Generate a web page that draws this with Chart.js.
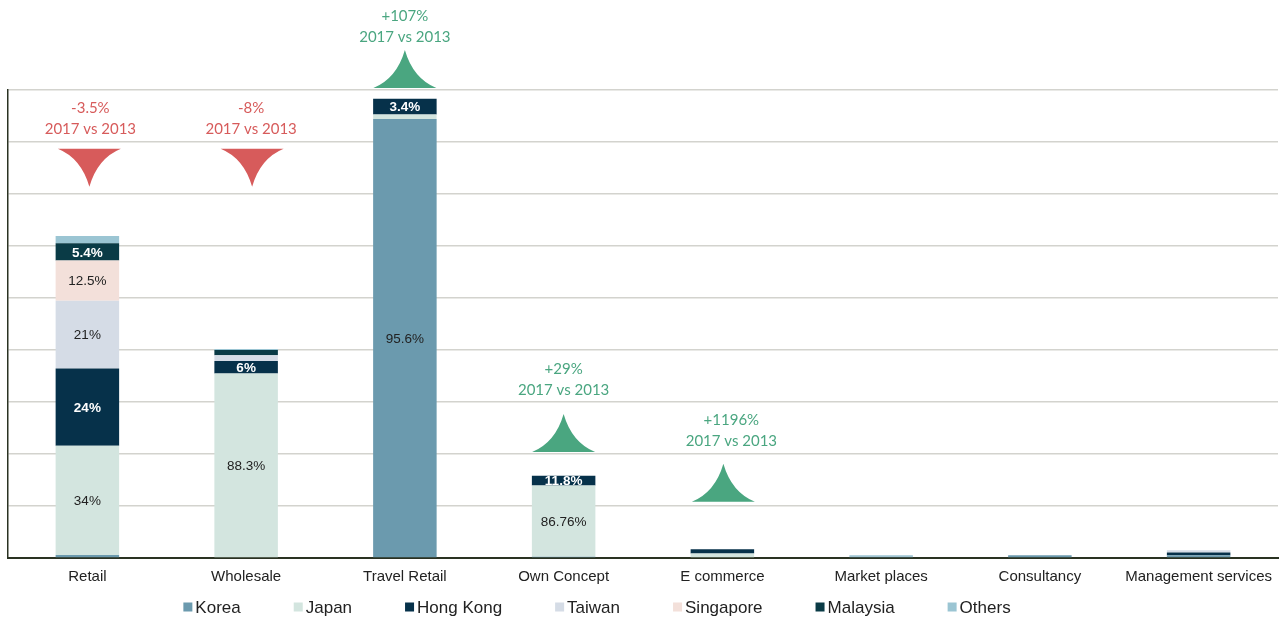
<!DOCTYPE html>
<html>
<head>
<meta charset="utf-8">
<script src="https://cdn.jsdelivr.net/npm/chart.js@4.4.0/dist/chart.umd.min.js"></script>
<style>
  html, body { margin: 0; padding: 0; background: #fff; }
  #wrap { width: 1285px; height: 624px; }
</style>
</head>
<body>
<div id="wrap"><canvas id="myChart"></canvas></div>
<script>
const channels = ['Retail', 'Wholesale', 'Travel Retail', 'Own Concept', 'E commerce',
                  'Market places', 'Consultancy', 'Management services'];

// size of each channel (same unit as the y axis)
const channelTotals = [61.9, 40.2, 88.3, 15.8, 1.7, 0.55, 0.55, 1.5];

// share of each market inside a channel, in %
const korea     = [0.9, 0, 95.6, 1.44, 0, 40, 100, 35];
const japan     = [34, 88.3, 1.0, 86.76, 50, 0, 0, 0];
const hongKong  = [24, 6, 3.4, 11.8, 50, 0, 0, 35];
const taiwan    = [21, 2.7, 0, 0, 0, 0, 0, 30];
const singapore = [12.5, 0, 0, 0, 0, 0, 0, 0];
const malaysia  = [5.4, 2.5, 0, 0, 0, 0, 0, 0];
const others    = [2.2, 0.5, 0, 0, 0, 60, 0, 0];

// growth 2017 vs 2013 per channel
const growth = ['-3.5%', '-8%', '+107%', '+29%', '+1196%', null, null, null];
const growthPeriod = '2017 vs 2013';

// where the growth spikes sit (y axis units), x nudges and caption spacing
const spikeLevel = [78.7, 78.7, 90.4, 20.4, 10.8];
const spikeShift = [2, 6, 0, 0, 1];
const noteShift  = [3, 5, 0, 0, 9];
const noteGap    = [20, 20, 13, 24, 23];

const markets = [
    {name: 'Korea',     share: korea,     color: '#6b9aae', ink: '#222'},
    {name: 'Japan',     share: japan,     color: '#d3e5df', ink: '#222'},
    {name: 'Hong Kong', share: hongKong,  color: '#06314a', ink: '#fff'},
    {name: 'Taiwan',    share: taiwan,    color: '#d5dce6', ink: '#222'},
    {name: 'Singapore', share: singapore, color: '#f3e0da', ink: '#222'},
    {name: 'Malaysia',  share: malaysia,  color: '#0a3b46', ink: '#fff'},
    {name: 'Others',    share: others,    color: '#9bc5d3', ink: '#222'},
];

const datasets = markets.map(m => ({
    label: m.name,
    data: m.share.map((s, i) => s * channelTotals[i] / 100),
    share: m.share,
    ink: m.ink,
    backgroundColor: m.color,
    borderWidth: 0,
    barPercentage: 0.4,
    categoryPercentage: 1
}));

// percentage written inside the larger segments
const segmentLabels = {
    id: 'segmentLabels',
    afterDatasetsDraw(chart) {
        const ctx = chart.ctx;
        ctx.save();
        ctx.textAlign = 'center';
        ctx.textBaseline = 'middle';
        chart.data.datasets.forEach((ds, di) => {
            const meta = chart.getDatasetMeta(di);
            meta.data.forEach((bar, i) => {
                const s = ds.share[i];
                if (s < 3 || channelTotals[i] < 10) return;
                ctx.fillStyle = ds.ink;
                ctx.font = (ds.ink === '#fff' ? 'bold ' : '') + '13.5px "Liberation Sans", Arial';
                ctx.fillText(s + '%', bar.x, (bar.y + bar.base) / 2 + 1);
            });
        });
        ctx.restore();
    }
};

function spike(ctx, cx, yb, w, h, dir){
    const tip = yb + dir * h;
    ctx.beginPath();
    ctx.moveTo(cx - w / 2, yb);
    ctx.quadraticCurveTo(cx - w * 0.13, yb + dir * h * 0.25, cx, tip);
    ctx.quadraticCurveTo(cx + w * 0.13, yb + dir * h * 0.25, cx + w / 2, yb);
    ctx.closePath();
    ctx.fill();
}

// growth arrows and their captions
const growthNotes = {
    id: 'growthNotes',
    afterDatasetsDraw(chart) {
        const {ctx, scales: {x, y}} = chart;
        ctx.save();
        ctx.textAlign = 'center';
        ctx.textBaseline = 'middle';
        ctx.font = '15px Lato';
        growth.forEach((g, i) => {
            if (!g) return;
            const up = g[0] === '+';
            const color = up ? '#4aa680' : '#d75b5b';
            const cx = x.getPixelForValue(i) + spikeShift[i];
            const yb = y.getPixelForValue(spikeLevel[i]);
            ctx.fillStyle = color;
            spike(ctx, cx, yb, 63, 38, up ? -1 : 1);
            const line2 = (up ? yb - 38 : yb) - noteGap[i];
            const tx = x.getPixelForValue(i) + noteShift[i];
            ctx.fillText(growthPeriod, tx, line2);
            ctx.fillText(g, tx, line2 - 21);
        });
        ctx.restore();
    }
};

// legend row under the axis
const marketLegend = {
    id: 'marketLegend',
    afterDraw(chart) {
        const ctx = chart.ctx;
        const area = chart.chartArea;
        ctx.save();
        ctx.font = '17px "Liberation Sans", Arial';
        ctx.textBaseline = 'middle';
        const box = 9, gap = 3, space = 53;
        const widths = markets.map(m => box + gap + ctx.measureText(m.name).width);
        const total = widths.reduce((a, b) => a + b, 0) + space * (markets.length - 1);
        let px = (area.left + area.right) / 2 - 46 - total / 2;
        const py = 607;
        markets.forEach((m, i) => {
            ctx.fillStyle = m.color;
            ctx.fillRect(px, py - box / 2, box, box);
            ctx.fillStyle = '#222';
            ctx.fillText(m.name, px + box + gap, py + 1);
            px += widths[i] + space;
        });
        ctx.restore();
    }
};

const ctx = document.getElementById('myChart').getContext('2d');
const myChart = new Chart(ctx, {
    type: 'bar',
    data: {
        labels: channels,
        datasets: datasets
    },
    options: {
        responsive: true,
        maintainAspectRatio: false,
        animation: false,
        layout: {
            padding: {top: 90, left: 8, right: 7, bottom: 28}
        },
        plugins: {
            legend: {display: false},
            tooltip: {enabled: false}
        },
        scales: {
            x: {
                stacked: true,
                grid: {display: false, drawTicks: false},
                border: {display: true, color: '#2a3222', width: 2},
                ticks: {
                    color: '#222',
                    padding: 10,
                    font: {family: '"Liberation Sans", Arial', size: 15}
                }
            },
            y: {
                stacked: true,
                min: 0,
                max: 90,
                ticks: {display: false, stepSize: 10},
                grid: {color: '#d3d3ce', lineWidth: 1.6, drawTicks: false},
                border: {display: true, color: '#2a3222', width: 1.5}
            }
        }
    },
    plugins: [segmentLabels, growthNotes, marketLegend]
});
</script>
</body>
</html>
